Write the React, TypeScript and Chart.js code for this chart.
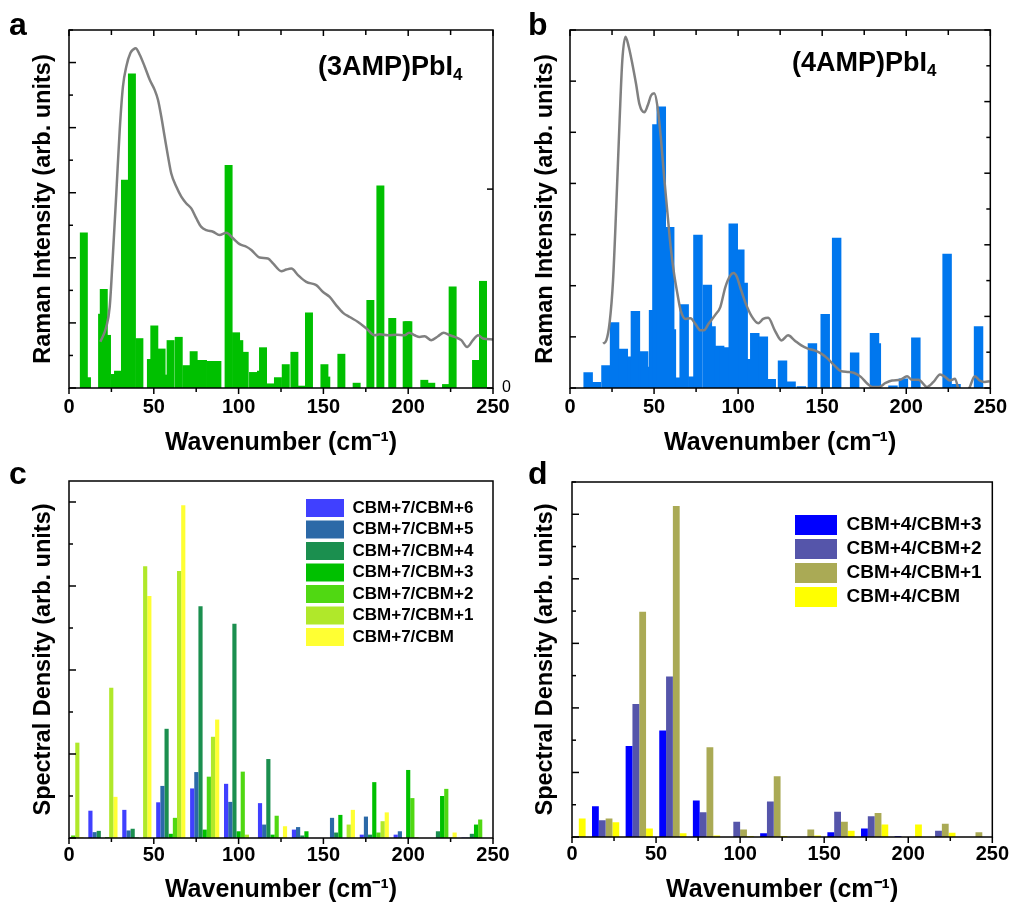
import React, { useEffect, useRef } from 'react';
import { Chart, registerables } from 'chart.js';

Chart.register(...registerables);

const FONT = "'Liberation Sans', Arial, Helvetica, sans-serif";
Chart.defaults.font.family = FONT;
Chart.defaults.color = '#000';

// ================= DATA =================
const wavenumberMin = 0;
const wavenumberMax = 250;
const wavenumberTickStep = 25;
const wavenumberLabelStep = 50;

// Panel a: calculated modes (3AMP)PbI4
const modes3AMP = [8.75, 10.6, 19.5, 20.5, 22.4, 27.1, 28.9, 33.0, 37.1, 41.5, 48.3, 50.3, 54.6, 58.2, 59.9, 64.7, 69.2, 73.5, 77.8, 79.0, 83.3, 87.5, 94.1, 98.5, 100.4, 103.6, 108.5, 113.2, 114.4, 118.7, 123.2, 127.8, 132.9, 137.2, 141.5, 150.6, 151.7, 160.6, 169.6, 177.7, 183.6, 190.6, 199.1, 200.1, 209.5, 213.6, 222.3, 226.2, 240.0, 244.1];
const intensity3AMP = [4.77, 0.32, 2.27, 3.03, 1.62, 0.42, 0.52, 6.39, 9.65, 1.52, 0.88, 1.91, 1.2, 0.4, 1.46, 1.56, 0.69, 1.12, 0.85, 0.85, 0.82, 0.82, 6.84, 1.7, 1.46, 1.1, 0.48, 0.52, 1.24, 0.13, 0.32, 0.72, 1.1, 0.06, 2.31, 0.72, 0.34, 1.04, 0.15, 2.69, 6.21, 2.14, 2.04, 2.04, 0.24, 0.15, 0.11, 3.11, 0.85, 3.28];
// Panel a: measured Raman spectrum
const raman3AMPx = [18.5, 22, 24, 25.6, 27.9, 29.9, 31.8, 33.8, 36.2, 38.1, 39.3, 41.7, 44.6, 47.6, 50.5, 52.5, 54.4, 56.4, 58.4, 60.3, 63.3, 66.2, 69.2, 72.1, 75.1, 78, 81, 84.9, 88.8, 92.8, 96.7, 100.6, 104.6, 107.5, 112.4, 117.3, 120.3, 125.2, 128.1, 131.1, 135, 139.9, 145.8, 149.8, 153.7, 157.6, 161.6, 165.5, 170.4, 175.4, 180.2, 183.2, 188.1, 193, 197.9, 200.5, 203.8, 206.8, 209.7, 213.6, 217.6, 220.9, 224.5, 227.4, 231.3, 234.7, 238.2, 241.2, 244.1, 250];
const raman3AMPy = [1.42, 1.88, 2.49, 3.83, 5.98, 7.93, 9.26, 9.88, 10.29, 10.41, 10.44, 10.24, 9.88, 9.47, 9.16, 8.85, 8.34, 7.72, 7.11, 6.59, 6.18, 5.88, 5.67, 5.52, 5.21, 4.95, 4.85, 4.8, 4.7, 4.77, 4.6, 4.42, 4.34, 4.24, 4.01, 3.98, 3.83, 3.59, 3.64, 3.67, 3.47, 3.26, 3.16, 2.95, 2.8, 2.54, 2.31, 2.18, 2.03, 1.83, 1.62, 1.65, 1.62, 1.64, 1.62, 1.7, 1.62, 1.57, 1.59, 1.47, 1.59, 1.7, 1.62, 1.57, 1.47, 1.26, 1.47, 1.62, 1.52, 1.49];

// Panel b: calculated modes (4AMP)PbI4
const modes4AMP = [10.8, 15.7, 21.4, 26.5, 31.7, 36.9, 38.9, 43.8, 44.6, 49.7, 51.7, 54.3, 59.3, 60.3, 65.4, 67.9, 73.1, 76.1, 81.7, 83.9, 89.0, 91.8, 97.1, 101.0, 103.0, 108.1, 109.9, 115.0, 119.7, 126.4, 131.5, 137.6, 144.2, 151.8, 158.6, 169.3, 181.1, 182.2, 192.1, 198.3, 205.7, 224.3, 229.6, 243.0];
const intensity4AMP = [0.30, 0.11, 0.44, 1.28, 0.76, 0.61, 1.5, 0.71, 0.41, 1.52, 5.15, 5.5, 3.14, 1.14, 0.2, 1.63, 0.22, 2.99, 2.01, 1.2, 0.82, 0.79, 3.21, 2.7, 2.05, 0.56, 1.07, 1.0, 0.17, 0.53, 0.12, 0.03, 0.87, 1.44, 2.93, 0.69, 1.07, 0.87, 0.04, 0.18, 0.98, 2.62, 0.07, 1.2];
// Panel b: measured Raman spectrum
const raman4AMPx = [19.7, 21.6, 23.6, 25.6, 27.5, 29.5, 31.1, 33, 35, 37.3, 39.3, 41.3, 44.2, 46.2, 48.2, 50.1, 52.1, 54, 56, 58, 59.9, 61.9, 63.9, 65.8, 68.8, 71.7, 74.7, 77.6, 79.6, 82.5, 86.5, 89.4, 92.4, 95.3, 97.3, 99.3, 101.2, 104.2, 108.1, 112, 114.9, 117.9, 121.8, 125.8, 129.7, 133.6, 137.6, 141.5, 145.4, 149.4, 153.3, 157.2, 161.2, 165.1, 169.1, 173, 176.9, 179.8, 183.8, 187.7, 191.6, 196.5, 200.5, 203.4, 207.3, 212.3, 216.2, 220.1, 223.1, 226, 229, 231.9, 234.9, 237.8, 240.8, 243.7, 246.7, 249.6];
const raman4AMPy = [1.24, 1.33, 1.84, 3.0, 5.05, 7.47, 9.14, 9.81, 9.52, 9.0, 8.49, 7.93, 7.7, 7.89, 8.17, 8.23, 7.84, 7.0, 5.89, 4.87, 3.93, 3.19, 2.63, 2.17, 1.93, 1.95, 1.78, 1.61, 1.61, 1.8, 2.05, 2.26, 2.82, 3.14, 3.21, 3.1, 2.82, 2.4, 2.0, 1.81, 1.93, 1.96, 1.61, 1.33, 1.47, 1.33, 1.19, 1.1, 1.05, 0.96, 0.82, 0.63, 0.47, 0.45, 0.42, 0.31, 0.12, 0.03, 0.03, 0.14, 0.21, 0.23, 0.33, 0.23, 0.23, 0.03, 0.17, 0.38, 0.31, 0.21, 0.26, -0.2, -0.3, 0.03, 0.33, 0.21, 0.17, 0.19];

// Panels c & d: spectral density groups
const groupWavenumbers = [0, 20, 40, 60, 80, 100, 120, 140, 160, 180, 200, 220, 240];

const cLabels = ['CBM+7/CBM+6', 'CBM+7/CBM+5', 'CBM+7/CBM+4', 'CBM+7/CBM+3', 'CBM+7/CBM+2', 'CBM+7/CBM+1', 'CBM+7/CBM'];
const c_cbm7_cbm6 = [0, 0.65, 0.67, 0.85, 1.18, 1.29, 0.83, 0.2, 0, 0.08, 0.08, 0, 0.01];
const c_cbm7_cbm5 = [0, 0.14, 0.18, 1.24, 1.57, 0.86, 0.32, 0.26, 0.48, 0.51, 0.16, 0, 0.01];
const c_cbm7_cbm4 = [0, 0.17, 0.22, 2.6, 5.52, 5.1, 1.88, 0.06, 0.13, 0.08, 0, 0.16, 0.1];
const c_cbm7_cbm3 = [0, 0, 0.01, 0.1, 0.2, 0.16, 0.08, 0.16, 0.55, 1.33, 1.62, 1.0, 0.32];
const c_cbm7_cbm2 = [0.06, 0.02, 0, 0.48, 1.46, 1.58, 0.53, 0, 0, 0.13, 0.95, 1.17, 0.44];
const c_cbm7_cbm1 = [2.27, 3.58, 6.47, 6.36, 2.41, 0.08, 0.02, 0, 0.32, 0.4, 0.02, 0.02, 0];
const c_cbm7_cbm0 = [0.02, 0.98, 5.76, 7.92, 2.82, 0, 0.28, 0, 0.67, 0.61, 0, 0.13, 0];

const dLabels = ['CBM+4/CBM+3', 'CBM+4/CBM+2', 'CBM+4/CBM+1', 'CBM+4/CBM'];
const d_cbm4_cbm3 = [0, 0.95, 2.82, 3.3, 1.13, 0, 0.12, 0, 0.15, 0.26, 0.02, 0, 0];
const d_cbm4_cbm2 = [0, 0.52, 4.12, 4.97, 0.77, 0.47, 1.1, 0, 0.78, 0.64, 0, 0.19, 0];
const d_cbm4_cbm1 = [0.01, 0.57, 6.98, 10.26, 2.78, 0.23, 1.88, 0.23, 0.47, 0.74, 0, 0.41, 0.15];
const d_cbm4_cbm0 = [0.57, 0.46, 0.26, 0.12, 0.05, 0.03, 0.03, 0.05, 0.19, 0.39, 0.39, 0.13, 0];

// ================= STYLES =================
const cColors = ['#4040ff', '#2c69a7', '#1b8f4f', '#00c000', '#50d812', '#b0e82a', '#ffff33'];
const dColors = ['#0000ff', '#5555aa', '#aaaa55', '#ffff00'];

// ================= HELPERS =================
function ticksFrom(min: number, max: number, step: number) {
  const out: { value: number }[] = [];
  const n = Math.floor((max - min) / step + 1e-9);
  for (let i = 0; i <= n; i++) out.push({ value: Math.round((min + i * step) * 1e6) / 1e6 });
  return out;
}

function pts(xs: number[], ys: number[]) {
  return xs.map((x, i) => ({ x, y: ys[i] }));
}

type TickSpec = { scale: string; side: 'left' | 'right' | 'top' | 'bottom'; major: number; majorLen: number; minorLen: number };
type DecorCfg = {
  letter: { text: string; x: number; y: number };
  formula?: { main: string; sub: string; x: number; y: number; size: number; subSize: number; subDrop: number };
  ticks: TickSpec[];
  legendAt?: { x: number; y: number };
};

function makeDecor(cfg: DecorCfg) {
  return {
    id: 'decor',
    afterLayout(chart: any) {
      if (cfg.legendAt && chart.legend) {
        const pad = chart.legend.options.labels.padding || 0;
        chart.legend.left = cfg.legendAt.x - pad;
        chart.legend.top = cfg.legendAt.y - pad;
      }
    },
    afterDraw(chart: any) {
      const { ctx, chartArea } = chart;
      const { left, right, top, bottom } = chartArea;
      ctx.save();
      ctx.strokeStyle = '#000';
      ctx.lineWidth = 1.5;
      for (const t of cfg.ticks) {
        const s = chart.scales[t.scale];
        if (!s) continue;
        for (const tk of s.ticks) {
          const v = tk.value;
          const r = v / t.major;
          const isMajor = Math.abs(r - Math.round(r)) < 1e-6;
          const len = isMajor ? t.majorLen : t.minorLen;
          const p = s.getPixelForValue(v);
          ctx.beginPath();
          if (t.side === 'bottom') { ctx.moveTo(p, bottom); ctx.lineTo(p, bottom + len); }
          else if (t.side === 'top') { ctx.moveTo(p, top); ctx.lineTo(p, top + len); }
          else if (t.side === 'left') { ctx.moveTo(left, p); ctx.lineTo(left + len, p); }
          else { ctx.moveTo(right, p); ctx.lineTo(right - len, p); }
          ctx.stroke();
        }
      }
      ctx.strokeRect(left, top, right - left, bottom - top);
      ctx.fillStyle = '#000';
      ctx.textAlign = 'left';
      ctx.textBaseline = 'alphabetic';
      ctx.font = `bold 32px ${FONT}`;
      ctx.fillText(cfg.letter.text, cfg.letter.x, cfg.letter.y);
      if (cfg.formula) {
        const f = cfg.formula;
        ctx.font = `bold ${f.size}px ${FONT}`;
        ctx.fillText(f.main, f.x, f.y);
        const w = ctx.measureText(f.main).width;
        ctx.font = `bold ${f.subSize}px ${FONT}`;
        ctx.fillText(f.sub, f.x + w, f.y + f.subDrop);
      }
      ctx.restore();
    },
  };
}

function makeXAxis(height: number, labelPad: number, titlePadBottom: number) {
  return {
    type: 'linear',
    position: 'bottom',
    min: wavenumberMin,
    max: wavenumberMax,
    offset: false,
    afterBuildTicks: (s: any) => { s.ticks = ticksFrom(wavenumberMin, wavenumberMax, wavenumberTickStep); },
    afterFit: (s: any) => { s.height = height; },
    grid: { display: false, drawTicks: false },
    border: { display: false },
    ticks: {
      autoSkip: false, maxRotation: 0, minRotation: 0, padding: labelPad,
      font: { size: 20, weight: 'bold' },
      callback: (v: number) => (v % wavenumberLabelStep === 0 ? String(v) : ''),
    },
    title: {
      display: true, text: 'Wavenumber (cm⁻¹)',
      font: { size: 25, weight: 'bold' },
      padding: { top: 0, bottom: titlePadBottom },
    },
  };
}

function makeYAxis(o: { position: 'left' | 'right'; width: number; max: number; step: number; title?: string; titlePad?: number; zeroLabel?: boolean }) {
  return {
    type: 'linear',
    position: o.position,
    min: 0,
    max: o.max,
    afterBuildTicks: (s: any) => { s.ticks = ticksFrom(0, o.max, o.step); },
    afterFit: (s: any) => { s.width = o.width; },
    grid: { display: false, drawTicks: false },
    border: { display: false },
    ticks: o.zeroLabel
      ? { display: true, padding: 9, font: { size: 16, weight: 'normal' }, callback: (v: number) => (v === 0 ? '0' : '') }
      : { display: false },
    title: o.title
      ? { display: true, text: o.title, font: { size: 23.5, weight: 'bold' }, padding: { top: o.titlePad ?? 0, bottom: 0 } }
      : { display: false },
  };
}

const baseOptions = {
  responsive: false,
  animation: false,
  events: [],
};

// ================= PANEL CONFIGS =================
function configA() {
  return {
    type: 'bar',
    data: {
      datasets: [
        {
          type: 'line', label: 'Raman (3AMP)PbI4', data: pts(raman3AMPx, raman3AMPy),
          borderColor: '#808080', borderWidth: 2.5, pointRadius: 0, cubicInterpolationMode: 'monotone',
          order: 0, yAxisID: 'y', xAxisID: 'x',
        },
        {
          type: 'bar', label: 'Calculated modes', data: pts(modes3AMP, intensity3AMP),
          backgroundColor: '#00c000', barThickness: 7.3, order: 1, yAxisID: 'y', xAxisID: 'x',
        },
      ],
    },
    options: {
      ...baseOptions,
      layout: { padding: { top: 30, left: 0, right: 0, bottom: 0 } },
      plugins: { legend: { display: false }, tooltip: { enabled: false } },
      scales: {
        x: makeXAxis(72, 7, 2),
        y: makeYAxis({ position: 'left', width: 69, max: 11, step: 1, title: 'Raman Intensity (arb. units)', titlePad: 29 }),
        y2: makeYAxis({ position: 'right', width: 27, max: 1.8, step: 1, zeroLabel: true }),
      },
    },
    plugins: [makeDecor({
      letter: { text: 'a', x: 9, y: 35 },
      formula: { main: '(3AMP)PbI', sub: '4', x: 318, y: 75, size: 27, subSize: 17, subDrop: 5 },
      ticks: [
        { scale: 'x', side: 'bottom', major: 50, majorLen: 6, minorLen: 4 },
        { scale: 'x', side: 'top', major: 50, majorLen: 6, minorLen: 5 },
        { scale: 'y', side: 'left', major: 2, majorLen: 7, minorLen: 4 },
        { scale: 'y2', side: 'right', major: 1, majorLen: 6, minorLen: 6 },
      ],
    })],
  };
}

function configB() {
  return {
    type: 'bar',
    data: {
      datasets: [
        {
          type: 'line', label: 'Raman (4AMP)PbI4', data: pts(raman4AMPx, raman4AMPy),
          borderColor: '#808080', borderWidth: 2.5, pointRadius: 0, cubicInterpolationMode: 'monotone',
          order: 0, yAxisID: 'y2', xAxisID: 'x',
        },
        {
          type: 'bar', label: 'Calculated modes', data: pts(modes4AMP, intensity4AMP),
          backgroundColor: '#0077ee', barThickness: 8.8, order: 1, yAxisID: 'y', xAxisID: 'x',
        },
      ],
    },
    options: {
      ...baseOptions,
      layout: { padding: { top: 30, left: 0, right: 0, bottom: 0 } },
      plugins: { legend: { display: false }, tooltip: { enabled: false } },
      scales: {
        x: makeXAxis(72, 7, 2),
        y: makeYAxis({ position: 'left', width: 65, max: 7, step: 1, title: 'Raman Intensity (arb. units)', titlePad: 26 }),
        y2: makeYAxis({ position: 'right', width: 20, max: 10, step: 1 }),
      },
    },
    plugins: [makeDecor({
      letter: { text: 'b', x: 23, y: 35 },
      formula: { main: '(4AMP)PbI', sub: '4', x: 287, y: 71, size: 27, subSize: 17, subDrop: 5 },
      ticks: [
        { scale: 'x', side: 'bottom', major: 50, majorLen: 6, minorLen: 4 },
        { scale: 'x', side: 'top', major: 50, majorLen: 6, minorLen: 5 },
        { scale: 'y', side: 'left', major: 1, majorLen: 6, minorLen: 6 },
        { scale: 'y2', side: 'right', major: 2, majorLen: 6, minorLen: 4 },
      ],
    })],
  };
}

function configC() {
  const series = [c_cbm7_cbm6, c_cbm7_cbm5, c_cbm7_cbm4, c_cbm7_cbm3, c_cbm7_cbm2, c_cbm7_cbm1, c_cbm7_cbm0];
  return {
    type: 'bar',
    data: {
      datasets: series.map((arr, k) => ({
        type: 'bar', label: cLabels[k], data: pts(groupWavenumbers, arr),
        backgroundColor: cColors[k], barPercentage: 1, categoryPercentage: 0.86,
      })),
    },
    options: {
      ...baseOptions,
      layout: { padding: { top: 26, left: 0, right: 27, bottom: 0 } },
      plugins: {
        tooltip: { enabled: false },
        legend: {
          display: true, position: 'chartArea', align: 'start',
          labels: { boxWidth: 38, boxHeight: 18, padding: 3.5, color: '#000', font: { size: 17, weight: 'bold' } },
        },
      },
      scales: {
        x: makeXAxis(67, 5, 0),
        y: makeYAxis({ position: 'left', width: 69, max: 8.5, step: 1, title: 'Spectral Density (arb. units)', titlePad: 29 }),
      },
    },
    plugins: [makeDecor({
      letter: { text: 'c', x: 9, y: 29 },
      legendAt: { x: 306, y: 44 },
      ticks: [
        { scale: 'x', side: 'bottom', major: 50, majorLen: 6, minorLen: 4 },
        { scale: 'y', side: 'left', major: 2, majorLen: 7, minorLen: 4 },
      ],
    })],
  };
}

function configD() {
  const series = [d_cbm4_cbm3, d_cbm4_cbm2, d_cbm4_cbm1, d_cbm4_cbm0];
  return {
    type: 'bar',
    data: {
      datasets: series.map((arr, k) => ({
        type: 'bar', label: dLabels[k], data: pts(groupWavenumbers, arr),
        backgroundColor: dColors[k], barPercentage: 1, categoryPercentage: 0.81,
      })),
    },
    options: {
      ...baseOptions,
      layout: { padding: { top: 27, left: 0, right: 20, bottom: 0 } },
      plugins: {
        tooltip: { enabled: false },
        legend: {
          display: true, position: 'chartArea', align: 'start',
          labels: { boxWidth: 42, boxHeight: 20, padding: 4, color: '#000', font: { size: 19, weight: 'bold' } },
        },
      },
      scales: {
        x: makeXAxis(68, 5, 0),
        y: makeYAxis({ position: 'left', width: 67, max: 11, step: 1, title: 'Spectral Density (arb. units)', titlePad: 26 }),
      },
    },
    plugins: [makeDecor({
      letter: { text: 'd', x: 23, y: 29 },
      legendAt: { x: 290, y: 60 },
      ticks: [
        { scale: 'x', side: 'bottom', major: 50, majorLen: 6, minorLen: 4 },
        { scale: 'y', side: 'left', major: 2, majorLen: 7, minorLen: 4 },
      ],
    })],
  };
}

// ================= COMPONENTS =================
function ChartPanel({ make, left, top, width, height }: { make: () => any; left: number; top: number; width: number; height: number }) {
  const ref = useRef<HTMLCanvasElement>(null);
  useEffect(() => {
    const chart = new Chart(ref.current as HTMLCanvasElement, make());
    return () => chart.destroy();
  }, []);
  return (
    <canvas
      ref={ref}
      width={width}
      height={height}
      style={{ position: 'absolute', left, top, width, height }}
    />
  );
}

export default function App() {
  return (
    <div style={{ position: 'fixed', left: 0, top: 0, width: 1014, height: 905, background: '#fff', overflow: 'hidden' }}>
      <ChartPanel make={configA} left={0} top={0} width={520} height={460} />
      <ChartPanel make={configB} left={505} top={0} width={509} height={460} />
      <ChartPanel make={configC} left={0} top={455} width={520} height={450} />
      <ChartPanel make={configD} left={505} top={455} width={509} height={450} />
    </div>
  );
}
